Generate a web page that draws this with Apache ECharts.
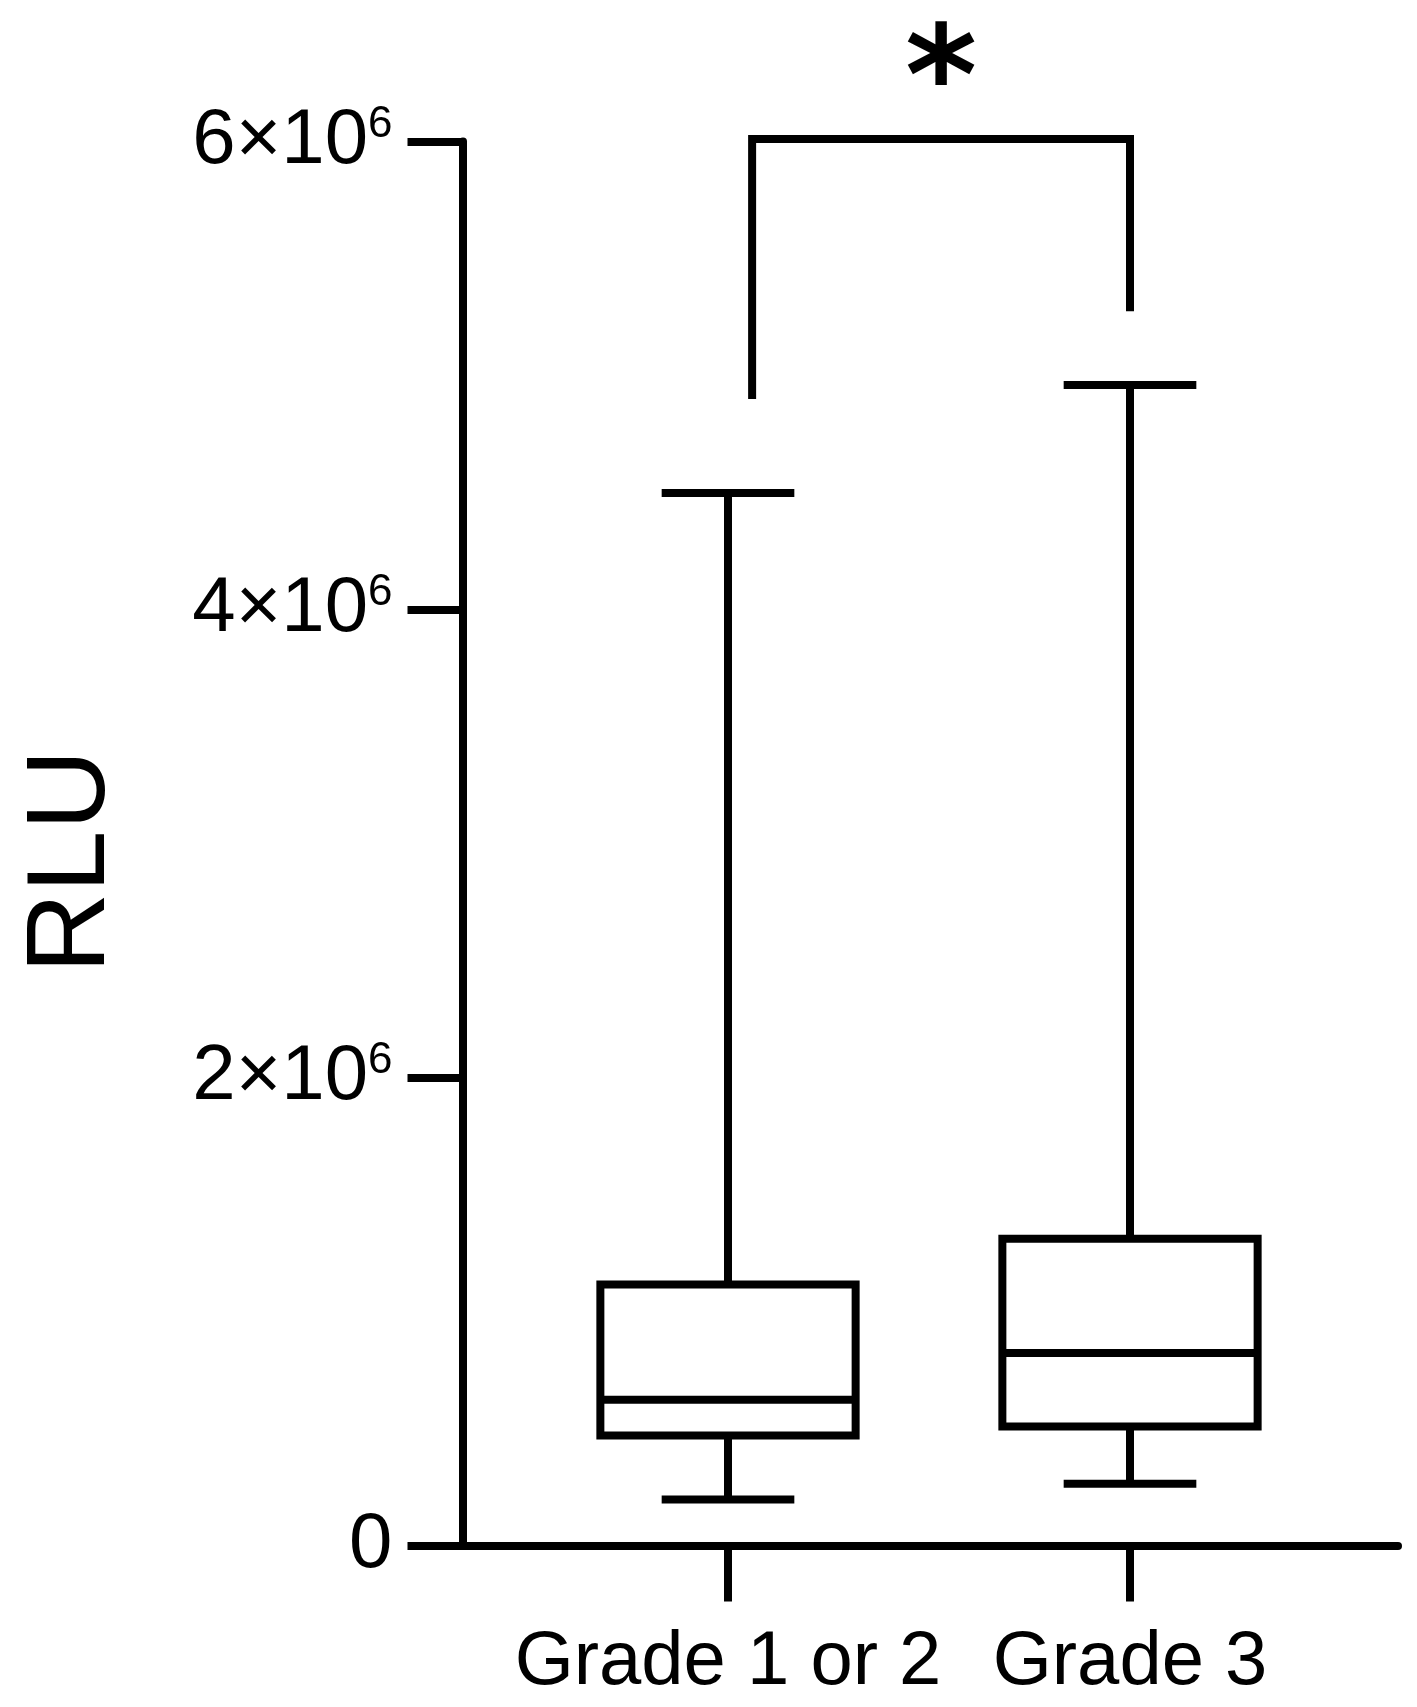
<!DOCTYPE html>
<html>
<head>
<meta charset="utf-8">
<style>
    html, body { margin: 0; padding: 0; background: #fff; }
    #chart { width: 1417px; height: 1707px; }
</style>
<script src="https://cdn.jsdelivr.net/npm/echarts@6/dist/echarts.min.js"></script>
</head>
<body>
<div id="chart"></div>
<script>
// 类别
const categories = ['Grade 1 or 2', 'Grade 3'];
// 箱线图数据（RLU）
const whiskerLow = [0.197e6, 0.264e6];
const q1Values = [0.470e6, 0.509e6];
const medianValues = [0.623e6, 0.823e6];
const q3Values = [1.115e6, 1.311e6];
const whiskerHigh = [4.498e6, 4.959e6];
// y轴刻度
const yTicks = [0, 2e6, 4e6, 6e6];
// 显著性标记（括号两脚的x位置以类别序号计，y为数值）
const bracketX = [0.06, 0.06, 1, 1];
const bracketY = [4.90e6, 6.011e6, 6.011e6, 5.275e6];
const sigLabel = '*';

const FONT = 'Liberation Sans, Arial, sans-serif';
const LW = 8;

let chart = echarts.init(document.getElementById('chart'));

const boxData = categories.map((c, i) => [i, whiskerLow[i], q1Values[i], medianValues[i], q3Values[i], whiskerHigh[i]]);

// 画一个箱子：箱体、中位线、须和须端横线（横线只有箱宽的一半左右）
function renderBox(params, api) {
    const i = api.value(0);
    const lo = api.coord([i, api.value(1)]);
    const q1 = api.coord([i, api.value(2)]);
    const med = api.coord([i, api.value(3)]);
    const q3 = api.coord([i, api.value(4)]);
    const hi = api.coord([i, api.value(5)]);
    const band = api.size([1, 0])[0];
    const bw = band * 0.635;
    const cw = band * 0.33;
    const cx = med[0];
    const style = { stroke: '#000', lineWidth: LW, fill: null, lineCap: 'butt', lineJoin: 'miter' };
    const line = (x1, y1, x2, y2) => ({ type: 'line', shape: { x1, y1, x2, y2 }, style });
    return {
        type: 'group',
        children: [
            line(cx, q3[1], cx, hi[1]),
            line(cx, q1[1], cx, lo[1]),
            line(cx - cw / 2, hi[1], cx + cw / 2, hi[1]),
            line(cx - cw / 2, lo[1], cx + cw / 2, lo[1]),
            { type: 'rect', shape: { x: cx - bw / 2, y: q3[1], width: bw, height: q1[1] - q3[1] }, style: { stroke: '#000', lineWidth: LW, fill: '#fff', lineJoin: 'miter' } },
            line(cx - bw / 2, med[1], cx + bw / 2, med[1])
        ]
    };
}

let option = {
    backgroundColor: '#fff',
    animation: false,
    textStyle: { fontFamily: FONT, color: '#000' },
    grid: [
        // 坐标轴用的grid
        { left: 462.5, right: 19, top: 141.5, bottom: 161.5 },
        // 箱线用的grid，类别中心对齐
        { left: 527, width: 804, top: 141.5, bottom: 161.5 }
    ],
    xAxis: [
        {
            gridIndex: 0, type: 'value', min: 0, max: 1,
            axisLine: { show: true, onZero: false, lineStyle: { color: '#000', width: LW } },
            axisTick: { show: false }, axisLabel: { show: false }, splitLine: { show: false }
        },
        {
            gridIndex: 1, type: 'category', data: categories, boundaryGap: true,
            axisLine: { show: false },
            axisTick: { show: true, alignWithLabel: true, length: 56, lineStyle: { color: '#000', width: LW } },
            axisLabel: { color: '#000', fontSize: 76, fontFamily: FONT, margin: 80, interval: 0 },
            splitLine: { show: false }
        },
        {
            gridIndex: 1, type: 'value', min: -0.5, max: 1.5, show: false
        }
    ],
    yAxis: [
        {
            gridIndex: 0, type: 'value', min: yTicks[0], max: yTicks[yTicks.length - 1], interval: yTicks[1] - yTicks[0],
            name: 'RLU', nameLocation: 'middle', nameRotate: 90, nameGap: 333,
            nameTextStyle: { fontSize: 112, fontFamily: FONT, color: '#000', padding: [0, 36, 0, 0] },
            axisLine: { show: true, lineStyle: { color: '#000', width: LW } },
            axisTick: { show: true, length: 55, lineStyle: { color: '#000', width: LW } },
            axisLabel: {
                margin: 70,
                formatter: v => v === 0 ? '{m|0}' : '{m|' + (v / 1e6) + '×10}{sup|6}',
                rich: {
                    m: { fontSize: 78, fontFamily: FONT, color: '#000', lineHeight: 78 },
                    sup: { fontSize: 44, fontFamily: FONT, color: '#000', lineHeight: 44, verticalAlign: 'top' }
                }
            },
            splitLine: { show: false }
        },
        {
            gridIndex: 1, type: 'value', min: yTicks[0], max: yTicks[yTicks.length - 1], show: false
        }
    ],
    series: [
        {
            type: 'custom',
            xAxisIndex: 1, yAxisIndex: 1,
            renderItem: renderBox,
            encode: { x: 0, y: [1, 2, 3, 4, 5] },
            data: boxData,
            clip: false
        },
        {
            type: 'line',
            xAxisIndex: 2, yAxisIndex: 1,
            data: bracketX.map((x, i) => [x, bracketY[i]]),
            symbol: 'none',
            clip: false,
            lineStyle: { color: '#000', width: LW, cap: 'butt', join: 'miter' }
        },
        {
            type: 'scatter',
            xAxisIndex: 2, yAxisIndex: 1,
            data: [[(bracketX[0] + bracketX[3]) / 2, bracketY[1]]],
            symbolSize: 0,
            clip: false,
            // scatter默认opacity是0.8，会让星号发灰
            itemStyle: { opacity: 1, color: '#000' },
            label: {
                show: true, position: 'inside', formatter: sigLabel,
                fontSize: 138, lineHeight: 138, fontWeight: 'bold', fontFamily: 'DejaVu Sans', color: '#000',
                textBorderWidth: 0, opacity: 1,
                offset: [0, -52]
            }
        }
    ]
};

chart.setOption(option);
</script>
</body>
</html>
